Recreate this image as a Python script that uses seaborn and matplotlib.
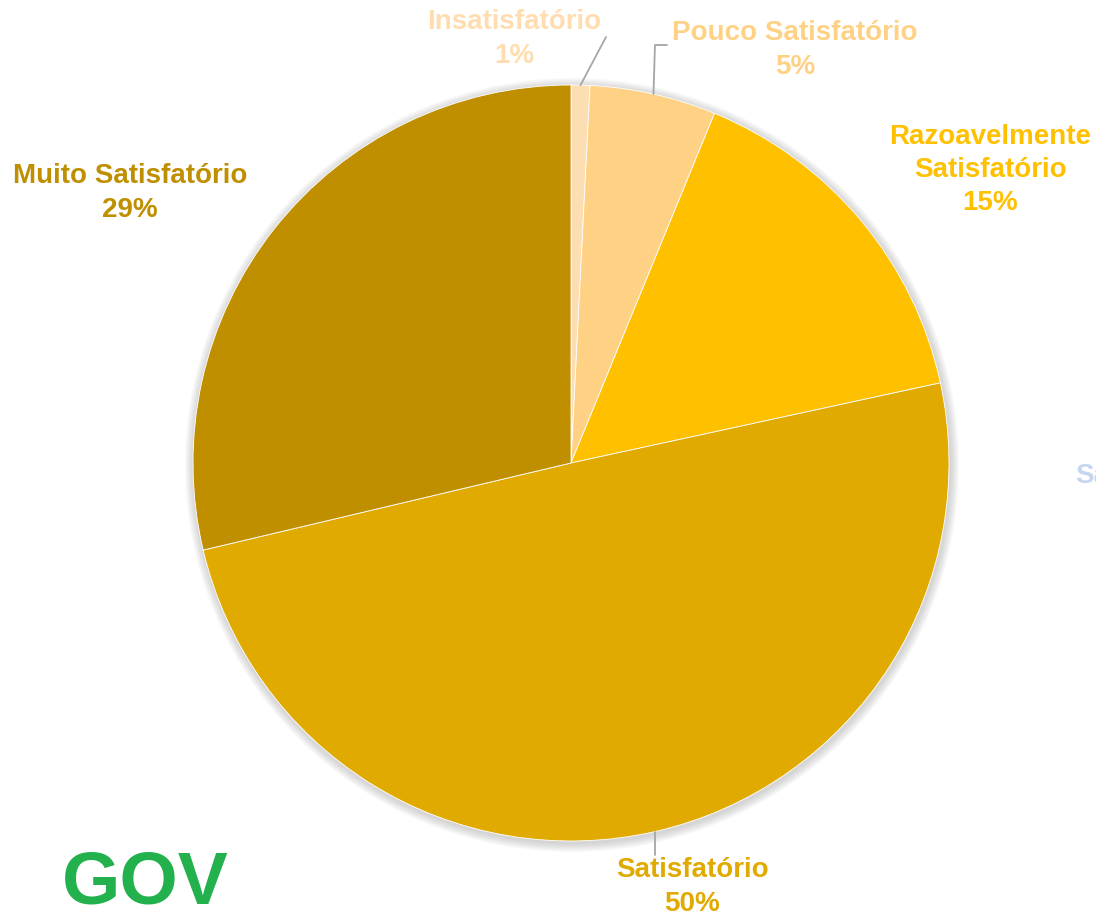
import numpy as np
import seaborn as sns
import matplotlib.pyplot as plt
from matplotlib.patches import Circle

# satisfaction survey shares (percent)
categories = ['Insatisfatório', 'Pouco Satisfatório', 'Razoavelmente\nSatisfatório',
              'Satisfatório', 'Muito Satisfatório']
values = [0.8, 5.4, 15.4, 49.7, 28.7]
slice_colors = ['#FDDEB3', '#FFD185', '#FFC000', '#E1AA00', '#BF8F00']
text_colors = ['#FFDDB0', '#FFD185', '#FFC000', '#E0AA00', '#BF8F00']

W, H = 1096, 915
CX, CY, R = 571, 463, 378

# label centres in pixel coords (top-left origin)
label_pos = [(514, 39), (795, 50), (990, 170), (692, 887), (130, 193)]
# leader line elbows for the labels that have one (None = no leader)
leaders = [[(606, 37)], [(655, 45), (667, 45)], None, [None], None]

sns.set_theme(style='white')
plt.rcParams['font.family'] = ['Liberation Sans', 'DejaVu Sans']

fig = plt.figure(figsize=(W / 100, H / 100), dpi=100)
ax = fig.add_axes([0, 0, 1, 1])


def px(x, y):
    return x, H - y


# soft shadow around the pie
for k in range(9, 0, -1):
    ax.add_patch(Circle(px(CX + 1, CY + 2), R + k * 1.0, color='#7F7F7F',
                        alpha=0.04, lw=0, zorder=0))

wedges, _ = ax.pie(values, colors=slice_colors, startangle=90, counterclock=False,
                   center=px(CX, CY), radius=R,
                   wedgeprops=dict(edgecolor='white', linewidth=0.6))
for w in wedges:
    w.set_zorder(2)

# pie() resets the limits, so fix them afterwards
ax.set_xlim(0, W)
ax.set_ylim(0, H)
ax.set_aspect('auto')
ax.set_axis_off()

# labels and leader lines
cum = np.cumsum([0] + values[:-1])
for i, (cat, v) in enumerate(zip(categories, values)):
    lx, ly = label_pos[i]
    ax.text(*px(lx, ly), f'{cat}\n{v:.0f}%', ha='center', va='center',
            multialignment='center', fontsize=20, fontweight='bold',
            color=text_colors[i], linespacing=1.36, zorder=5)
    if leaders[i] is None:
        continue
    ang = np.deg2rad((cum[i] + v / 2) * 3.6)
    ex, ey = CX + R * np.sin(ang), CY - R * np.cos(ang)
    pts = [(ex, ey)]
    for p in leaders[i]:
        pts.append(p if p is not None else (ex, 855))
    xs, ys = zip(*[px(a, b) for a, b in pts])
    ax.plot(xs, ys, color='#A6A6A6', lw=1.3, zorder=3)

# clipped legend text at the right edge (cut off in the original too)
ax.text(*px(1075, 476), 'Sa', ha='left', va='center', fontsize=20,
        fontweight='bold', color='#C5D6EE')

# logo text at bottom left
ax.text(*px(62, 903), 'GOV', ha='left', va='baseline', fontsize=54,
        fontweight='heavy', color='#22B14C')

fig.savefig('out.png', dpi=100)
